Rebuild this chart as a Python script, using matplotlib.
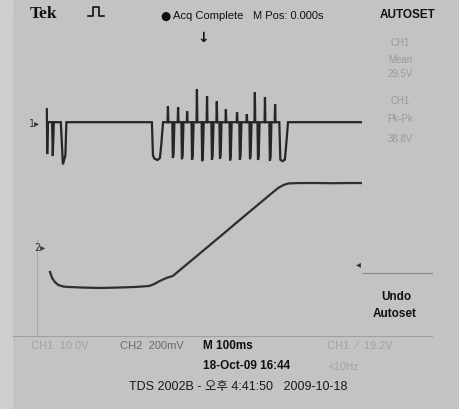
import matplotlib
matplotlib.use("Agg")
import matplotlib.pyplot as plt
from matplotlib.lines import Line2D
import numpy as np

# ---------------- data (time in ms, CH1 in V, CH2 in mV) ----------------
ch1_head_t = [97, 98, 100, 103, 112, 114, 117, 137, 143, 150, 153]
ch1_head_v = [3.8, -7.6, 0.5, 0.5, 0.5, -8.1, 0.5, 0.5, -10.2, -8.0, 0.5]
ch1_gap_t = [398, 401, 406, 414, 421, 425, 430]
ch1_gap_v = [0.5, -8.0, -8.8, -9.1, -8.6, -5.0, 0.5]
ch1_spike_t = [444, 473, 499, 527, 556, 584, 610, 642, 670, 693, 722, 751]
ch1_spike_v = [4.6, 4.3, 3.3, 8.9, 7.1, 5.8, 3.8, 3.0, 2.5, 8.1, 6.9, 5.1]
ch1_pulse_t = [458, 484, 513, 542, 570, 593, 622, 650, 679, 702, 736]
ch1_pulse_v = [-8.6, -8.9, -9.0, -9.4, -9.0, -8.8, -9.2, -9.0, -8.9, -9.1, -9.3]
ch1_tail_t = [763, 766, 772, 779, 784, 788, 1000]
ch1_tail_v = [0.5, -9.0, -9.4, -9.0, -4.0, 0.5, 0.5]
ch1_base = 0.5

ch2_t = [106, 112, 120, 130, 145, 160, 200, 250, 300, 350, 390, 405, 420, 440, 458,
         500, 550, 600, 650, 700, 740, 760, 775, 790, 820, 870, 920, 960, 1000]
ch2_v = [-127, -157, -178, -193, -201, -203, -206, -208, -206, -203, -198, -188, -173,
         -157, -147, -85, -11, 63, 138, 212, 271, 300, 315, 323, 325, 325, 324, 325, 325]

CH1_SCALE = 10.0   # V/div
CH2_SCALE = 200.0  # mV/div
CH1_POS = 1.38     # div
CH2_POS = -1.74    # div

# ---------------- build CH1 polyline ----------------
t1 = list(ch1_head_t)
v1 = list(ch1_head_v)
t1 += [153, 398]
v1 += [ch1_base, ch1_base]
t1 += ch1_gap_t
v1 += ch1_gap_v
events = sorted([(t, 's', v) for t, v in zip(ch1_spike_t, ch1_spike_v)] +
                [(t, 'p', v) for t, v in zip(ch1_pulse_t, ch1_pulse_v)])
for t, kind, v in events:
    if kind == 's':
        t1 += [t - 1.2, t, t + 1.2]
        v1 += [ch1_base, v, ch1_base]
    else:
        t1 += [t - 1.5, t, t + 2, t + 4.5]
        v1 += [ch1_base, v, v * 0.9, ch1_base]
t1 += ch1_tail_t
v1 += ch1_tail_v
t1 = np.array(t1, float)
v1 = np.array(v1, float) / CH1_SCALE + CH1_POS

t2 = np.array(ch2_t, float)
v2 = np.array(ch2_v, float) / CH2_SCALE + CH2_POS

# ---------------- figure ----------------
W, H = 459, 410
BG = '#c3c3c3'
fig = plt.figure(figsize=(W / 100, H / 100), dpi=100, facecolor=BG)

def fx(x):
    return x / W

def fy(y):
    return 1 - y / H

L, R, T, B = 13, 362, 22, 337
ax = fig.add_axes([fx(L), fy(B), (R - L) / W, (B - T) / H])
ax.set_facecolor(BG)
ax.set_xlim(0, 1000)
ax.set_ylim(-4, 4)
for s in ax.spines.values():
    s.set_visible(False)
ax.set_xticks([])
ax.set_yticks([])

ax.plot(t1, v1, color='#262626', lw=1.6, solid_joinstyle='miter')
ax.plot(t2, v2, color='#2e2e2e', lw=1.6)
# right end vertical of the screen
ax.plot([1000, 1000], [v2[-1], CH2_POS - 0.45], color='#8a8a8a', lw=0.8)

# left border strip lighter
fig.add_artist(plt.Rectangle((0, 0), fx(12), 1, transform=fig.transFigure,
                             color='#cfcfcf', zorder=0))

# separators
fig.add_artist(Line2D([fx(362), fx(432)], [fy(274), fy(274)], color='#8c8c8c', lw=0.8))
fig.add_artist(Line2D([fx(13), fx(432)], [fy(337), fy(337)], color='#a0a0a0', lw=0.8))
fig.add_artist(Line2D([fx(37), fx(37)], [fy(240), fy(337)], color='#a8a8a8', lw=0.8))

# pulse symbol
px = [88, 93, 93, 99, 99, 104]
py = [17, 17, 8, 8, 17, 17]
fig.add_artist(Line2D([fx(x) for x in px], [fy(y) for y in py], color='#111111', lw=1.2))

NARROW = ['Liberation Sans Narrow', 'Liberation Sans', 'DejaVu Sans']
KR = ['Liberation Sans', 'Noto Sans CJK KR']

def txt(x, y, s, size=8, color='#111111', weight='normal', ha='center', family=NARROW):
    fig.text(fx(x), fy(y), s, ha=ha, va='center', fontsize=size, color=color,
             fontweight=weight, family=family)

# header
txt(44, 14, 'Tek', size=12.5, weight='bold', family=['Liberation Serif'])
txt(165, 16, '●', size=8.5, family=['DejaVu Sans'])
txt(173, 16, 'Acq Complete', size=8, ha='left')
txt(253, 16, 'M Pos: 0.000s', size=8, ha='left')
txt(408, 15, 'AUTOSET', size=8.5, weight='bold')
txt(203, 38, '↓', size=10, weight='bold', family=['DejaVu Sans'])

# channel markers
txt(34, 124, '1▸', size=7, color='#333333', family=['DejaVu Sans'])
txt(40, 248, '2▸', size=7, color='#333333', family=['DejaVu Sans'])
txt(358, 264, '◂', size=7, color='#333333', family=['DejaVu Sans'])

# right menu (faint)
faint = '#9a9a9a'
txt(400, 43, 'CH1', size=7, color=faint)
txt(400, 60, 'Mean', size=7, color=faint)
txt(400, 74, '29.5V', size=7, color=faint)
txt(400, 101, 'CH1', size=7, color=faint)
txt(400, 119, 'Pk-Pk', size=7, color=faint)
txt(400, 139, '38.8V', size=7, color=faint)
txt(396, 297, 'Undo', size=8.5, weight='bold')
txt(395, 314, 'Autoset', size=8.5, weight='bold')

# bottom status
txt(60, 346, 'CH1  10.0V', size=8, color='#a2a2a2')
txt(152, 346, 'CH2  200mV', size=8, color='#6a6a6a')
txt(203, 346, 'M 100ms', size=8.5, weight='bold', ha='left')
txt(360, 346, 'CH1  ∕  19.2V', size=8, color='#a2a2a2')
txt(203, 366, '18-Oct-09 16:44', size=8.5, weight='bold', ha='left')
txt(344, 367, '<10Hz', size=7.5, color='#a2a2a2')
txt(238, 387, 'TDS 2002B - 오후 4:41:50   2009-10-18', size=9, color='#1a1a1a', family=KR)

fig.savefig('out.png', dpi=100, facecolor=BG)
